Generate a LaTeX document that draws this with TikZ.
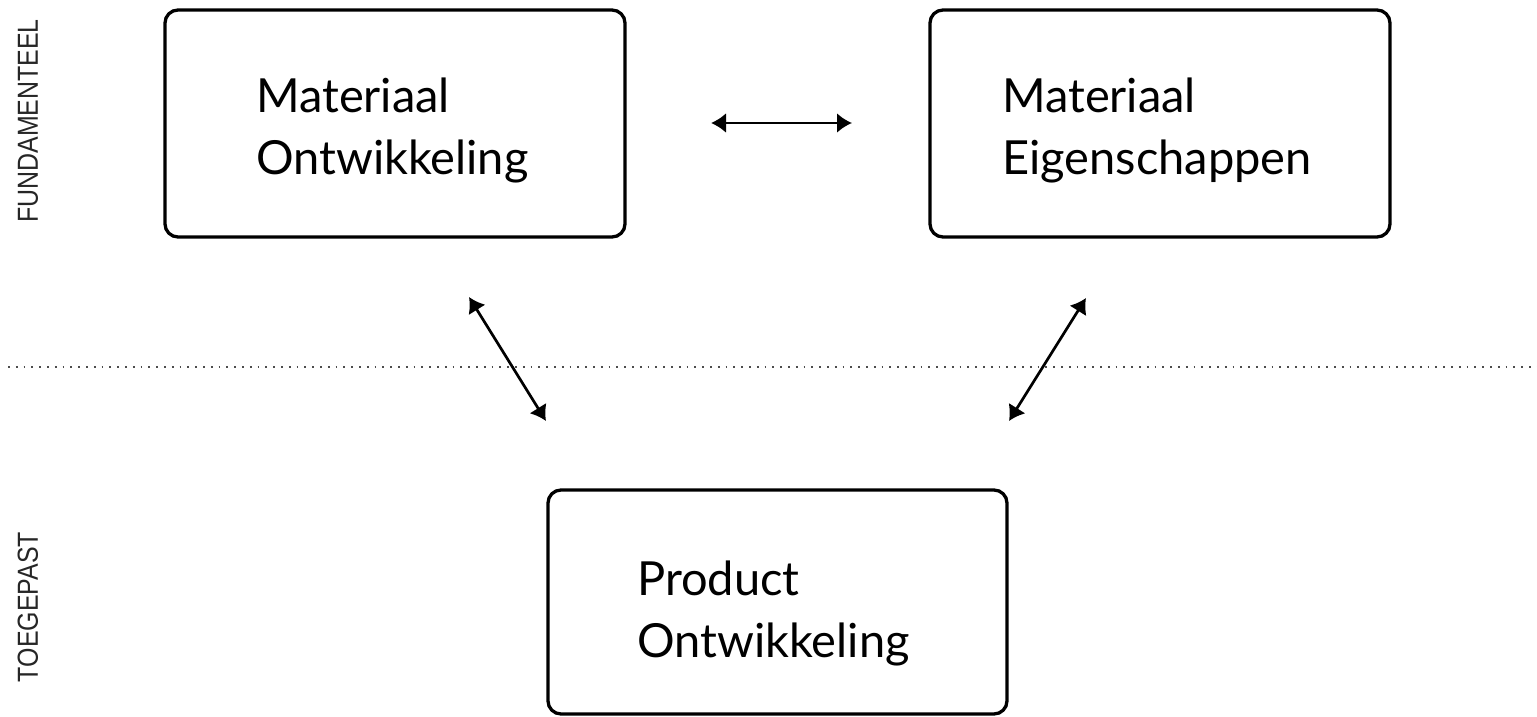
\documentclass[tikz,border=0pt]{standalone}
\usepackage{fontspec}
\setmainfont{Lato}
\newfontfamily\condfont[FakeStretch=0.86]{Liberation Sans}
\usetikzlibrary{arrows.meta}
\begin{document}
\begin{tikzpicture}[x=1pt,y=-1pt,
  box/.style={draw=black,line width=3.3pt,rounded corners=13pt,fill=none},
  lbl/.style={anchor=base west,inner sep=0pt,font=\fontsize{47}{62}\selectfont,align=left},
  side/.style={rotate=90,inner sep=0pt,font=\condfont\fontsize{29}{29}\selectfont,text=black!85},
  conn/.style={line width=2.7pt,{Latex[length=15pt,width=20pt]}-{Latex[length=15pt,width=20pt]}},
  sep/.style={line width=1.8pt,black!70,dash pattern=on 1.8pt off 6pt}
]
\useasboundingbox (0,0) rectangle (1537,717);
\draw[box] (165,10) rectangle (625,237);
\draw[box] (930,10) rectangle (1390,237);
\draw[box] (548,490) rectangle (1007,714);
\node[lbl] (t1) at (256,174) {Materiaal\\Ontwikkeling};
\node[lbl] (t2) at (1002,174) {Materiaal\\Eigenschappen};
\node[lbl] (t3) at (637,657) {Product\\Ontwikkeling};
\node[side] (f) at (28,121) {FUNDAMENTEEL};
\node[side] (g) at (28,607) {TOEGEPAST};
\coordinate (h1) at (711,123);
\coordinate (h2) at (852,123);
\coordinate (l1) at (469,297);
\coordinate (l2) at (546,421);
\coordinate (r1) at (1086,298);
\coordinate (r2) at (1009,421);
\coordinate (s1) at (8,367);
\coordinate (s2) at (1537,367);
\draw[sep] (s1) -- (s2);
\draw[conn] (h1) -- (h2);
\draw[conn] (l1) -- (l2);
\draw[conn] (r1) -- (r2);
\end{tikzpicture}
\end{document}
